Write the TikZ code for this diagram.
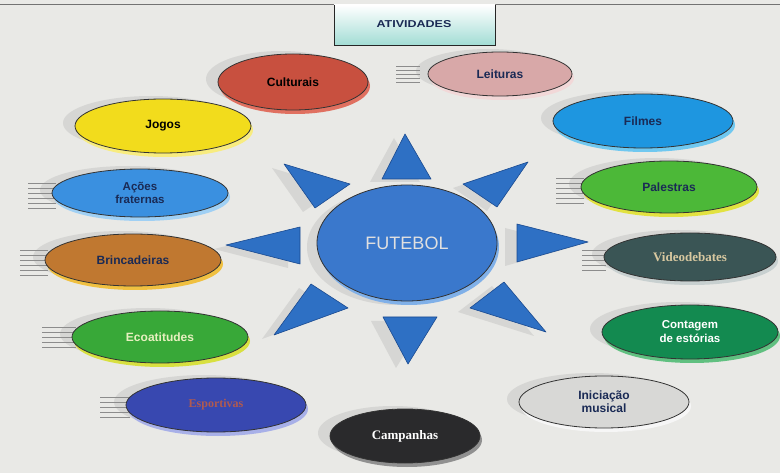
\documentclass[tikz,border=0pt]{standalone}
\usepackage{fontspec}
\setmainfont{Liberation Sans}
\newfontfamily\serifb{Liberation Serif}
\usetikzlibrary{shapes.geometric,calc}
\definecolor{bg}{HTML}{E9E9E6}
\definecolor{navy}{HTML}{1A2A55}
\definecolor{ray}{HTML}{2E70C4}
\definecolor{raydark}{HTML}{1A4A90}
\definecolor{cCul}{HTML}{C8503F}\definecolor{rCul}{HTML}{E07060}
\definecolor{cLei}{HTML}{D8A8A8}\definecolor{rLei}{HTML}{F2D8D8}
\definecolor{cJog}{HTML}{F2DC1C}\definecolor{rJog}{HTML}{F8EC80}
\definecolor{cFil}{HTML}{1E96E0}\definecolor{rFil}{HTML}{70C8F0}
\definecolor{cAco}{HTML}{3A90E0}\definecolor{rAco}{HTML}{A0D0F4}
\definecolor{cPal}{HTML}{4CB838}\definecolor{rPal}{HTML}{E2E240}
\definecolor{cBri}{HTML}{C07830}\definecolor{rBri}{HTML}{F0C040}
\definecolor{cVid}{HTML}{3A5555}\definecolor{rVid}{HTML}{C8D0D0}\definecolor{tVid}{HTML}{D8C8A0}
\definecolor{cEco}{HTML}{38A838}\definecolor{rEco}{HTML}{D8E040}\definecolor{tEco}{HTML}{E8F0C0}
\definecolor{cCon}{HTML}{138A50}\definecolor{rCon}{HTML}{60C080}
\definecolor{cEsp}{HTML}{3848B0}\definecolor{rEsp}{HTML}{A8B0E8}\definecolor{tEsp}{HTML}{B05A50}
\definecolor{cIni}{HTML}{D8D8D6}\definecolor{rIni}{HTML}{F6F6F6}
\definecolor{cCam}{HTML}{2A2A2C}\definecolor{rCam}{HTML}{909090}
\definecolor{cFut}{HTML}{3A78CC}\definecolor{rFut}{HTML}{80B0E8}
\definecolor{titlebot}{HTML}{A0DCD4}
\tikzset{
  disc/.style={ellipse, draw=black!80, line width=0.8pt, inner sep=0pt, align=center,
    font=\bfseries\fontsize{12}{12}\selectfont, text=navy},
  rimdisc/.style={ellipse, inner sep=0pt, draw=none},
  softshadow/.style={fill=black!45, opacity=0.2},
  speed/.style={draw=black!45, line width=0.7pt},
  raystyle/.style={fill=ray, draw=raydark, line width=0.6pt, line join=round},
}
% #1 name, #2 center, #3 width, #4 height, #5 fill, #6 rim, #7 node options, #8 text
\newcommand\Disc[8]{%
  \fill[softshadow] ($#2+(-12,-3)$) ellipse ({#3/2} and {#4/2});
  \node[rimdisc, fill=#6, minimum width=#3, minimum height=#4] at ($#2+(2,4)$) {};
  \node[disc, fill=#5, minimum width=#3, minimum height=#4, #7] (#1) at #2 {#8};
}
\begin{document}
\begin{tikzpicture}[x=1pt,y=-1pt]
\useasboundingbox (0,0) rectangle (780,473);
\fill[bg] (0,0) rectangle (780,473);
\draw[black!55, line width=0.8pt] (0,4) -- (780,4);

% title box
\shade[top color=white, bottom color=titlebot] (334,5) rectangle (495,46);
\draw[black!85, line width=1pt] (334,5) -- (334,46) -- (495,46) -- (495,5);
\node[font=\bfseries\fontsize{12.5}{12.5}\selectfont, text=navy, yscale=0.8] (title) at (414,24) {ATIVIDADES};

% speed lines
\foreach \y in {66,70,74,78,82} \draw[speed] (396,\y) -- (420,\y);
\foreach \y in {183,188,193,198,203,208} \draw[speed] (28,\y) -- (56,\y);
\foreach \y in {250,255,260,265,270,275} \draw[speed] (20,\y) -- (48,\y);
\foreach \y in {327,332,337,342,347} \draw[speed] (42,\y) -- (76,\y);
\foreach \y in {397,402,407,412,417} \draw[speed] (100,\y) -- (130,\y);
\foreach \y in {178,183,188,193,198,203} \draw[speed] (556,\y) -- (584,\y);
\foreach \y in {250,255,260,265,270} \draw[speed] (582,\y) -- (606,\y);

% discs
\Disc{culturais}{(293,82)}{150}{56}{cCul}{rCul}{text=black}{Culturais}
\Disc{leituras}{(500,74)}{144}{44}{cLei}{rLei}{}{Leituras}
\Disc{jogos}{(163,126)}{176}{54}{cJog}{rJog}{text=black}{Jogos}
\Disc{filmes}{(643,121)}{180}{54}{cFil}{rFil}{}{Filmes}
\Disc{acoes}{(140,193)}{176}{48}{cAco}{rAco}{font=\bfseries\fontsize{11.5}{12.5}\selectfont}{Ações\\fraternas}
\Disc{palestras}{(669,187)}{176}{52}{cPal}{rPal}{}{Palestras}
\Disc{brinc}{(133,260)}{176}{52}{cBri}{rBri}{}{Brincadeiras}
\Disc{video}{(690,257)}{172}{48}{cVid}{rVid}{font=\serifb\bfseries\fontsize{13}{13}\selectfont, text=tVid}{Videodebates}
\Disc{eco}{(160,337)}{176}{52}{cEco}{rEco}{text=tEco}{Ecoatitudes}
\Disc{contagem}{(690,332)}{176}{54}{cCon}{rCon}{text=white, font=\bfseries\fontsize{11.5}{14}\selectfont}{Contagem\\de estórias}
\Disc{esportivas}{(216,405)}{180}{54}{cEsp}{rEsp}{font=\serifb\bfseries\fontsize{12}{12}\selectfont, text=tEsp}{Esportivas}
\Disc{iniciacao}{(604,402)}{170}{52}{cIni}{rIni}{font=\bfseries\fontsize{12}{13}\selectfont}{Iniciação\\musical}
\Disc{campanhas}{(405,436)}{150}{54}{cCam}{rCam}{font=\serifb\bfseries\fontsize{13}{13}\selectfont, text=white}{Campanhas}

% sun rays shadows
\begin{scope}[softshadow]
\fill (394,138) -- (370,182) -- (420,182) -- cycle;
\fill (272,168) -- (338,188) -- (303,212) -- cycle;
\fill (453,188) -- (518,166) -- (487,211) -- cycle;
\fill (505,228) -- (576,246) -- (505,266) -- cycle;
\fill (492,286) -- (534,336) -- (458,312) -- cycle;
\fill (371,321) -- (425,321) -- (396,368) -- cycle;
\fill (262,339) -- (299,288) -- (336,312) -- cycle;
\fill (214,249) -- (288,231) -- (288,268) -- cycle;
\fill (397,247) ellipse (90 and 58);
\end{scope}

% sun rays
\draw[raystyle] (405,134) -- (431,179) -- (382,179) -- cycle;
\draw[raystyle] (284,164) -- (350,184) -- (315,208) -- cycle;
\draw[raystyle] (528,162) -- (497,207) -- (463,184) -- cycle;
\draw[raystyle] (226,245) -- (300,227) -- (300,264) -- cycle;
\draw[raystyle] (588,242) -- (517,262) -- (517,224) -- cycle;
\draw[raystyle] (274,335) -- (311,284) -- (348,308) -- cycle;
\draw[raystyle] (546,332) -- (470,308) -- (504,282) -- cycle;
\draw[raystyle] (383,317) -- (437,317) -- (408,364) -- cycle;

% center
\fill[rFut] (409,247) ellipse (90 and 58);
\node[ellipse, fill=cFut, draw=black!80, line width=0.8pt, minimum width=180, minimum height=116,
  inner sep=0pt, font=\fontsize{18}{18}\selectfont, text=black!12] (futebol) at (407,243) {FUTEBOL};
\end{tikzpicture}
\end{document}
